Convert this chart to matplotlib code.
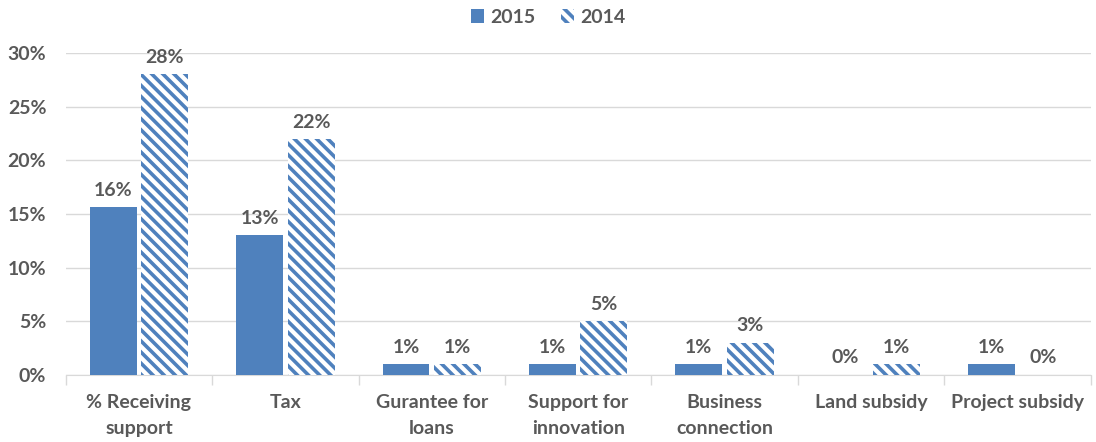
import matplotlib.pyplot as plt
import numpy as np
from matplotlib.patches import Patch

categories = ['% Receiving\nsupport', 'Tax', 'Gurantee for\nloans', 'Support for\ninnovation',
              'Business\nconnection', 'Land subsidy', 'Project subsidy']
values_2015 = [15.6, 13.0, 1.0, 1.0, 1.0, 0.0, 1.0]
values_2014 = [28.0, 22.0, 1.0, 5.0, 3.0, 1.0, 0.0]
y_ticks = [0, 5, 10, 15, 20, 25, 30]

blue = '#4F81BD'
grey = '#595959'
plt.rcParams['font.family'] = ['Lato', 'DejaVu Sans']
plt.rcParams['hatch.linewidth'] = 2.6
fs = 14

fig = plt.figure(figsize=(10.96, 4.42), dpi=100)
ax = fig.add_axes([0.060, 0.152, 0.935, 0.728])

x = np.arange(len(categories))
w = 0.32
off = 0.176
b15 = ax.bar(x - off, values_2015, w, color=blue, linewidth=0, zorder=3)
b14 = ax.bar(x + off, values_2014, w, facecolor='white', edgecolor=blue,
             hatch='\\\\\\', linewidth=0, zorder=3)

# value labels above each bar
for bars, vals in ((b15, values_2015), (b14, values_2014)):
    for rect, v in zip(bars, vals):
        ax.annotate(f'{v:.0f}%', (rect.get_x() + rect.get_width() / 2, v),
                    xytext=(0, 6), textcoords='offset points', ha='center', va='bottom',
                    fontsize=fs, fontweight='bold', color=grey)

ax.set_xlim(-0.5, len(categories) - 0.5)
ax.set_ylim(0, 30)
ax.set_yticks(y_ticks)
ax.set_yticklabels([f'{t}%' for t in y_ticks])
ax.grid(axis='y', color='#D9D9D9', linewidth=1, zorder=0)
ax.set_axisbelow(True)

ax.set_xticks(x)
ax.set_xticklabels(categories, fontsize=fs, fontweight='bold', color=grey, linespacing=1.6)
ax.set_xticks(np.arange(-0.5, len(categories)), minor=True)
ax.tick_params(axis='x', which='major', length=0, pad=14)
ax.tick_params(axis='x', which='minor', length=7, color='#D9D9D9', width=1)
ax.tick_params(axis='y', length=0, labelsize=fs, labelcolor=grey, pad=14)
for lbl in ax.get_yticklabels():
    lbl.set_fontweight('bold')

for s in ('top', 'right', 'left'):
    ax.spines[s].set_visible(False)
ax.spines['bottom'].set_color('#D9D9D9')

handles = [Patch(facecolor=blue, linewidth=0),
           Patch(facecolor='white', edgecolor=blue, hatch='\\\\\\', linewidth=0)]
leg = fig.legend(handles, ['2015', '2014'], loc='upper center', bbox_to_anchor=(0.5, 1.02),
                 ncol=2, frameon=False, handlelength=0.7, handleheight=0.7,
                 handletextpad=0.3, columnspacing=1.3,
                 prop={'size': fs, 'weight': 'bold'})
for t in leg.get_texts():
    t.set_color(grey)

fig.savefig('out.png', dpi=100)
